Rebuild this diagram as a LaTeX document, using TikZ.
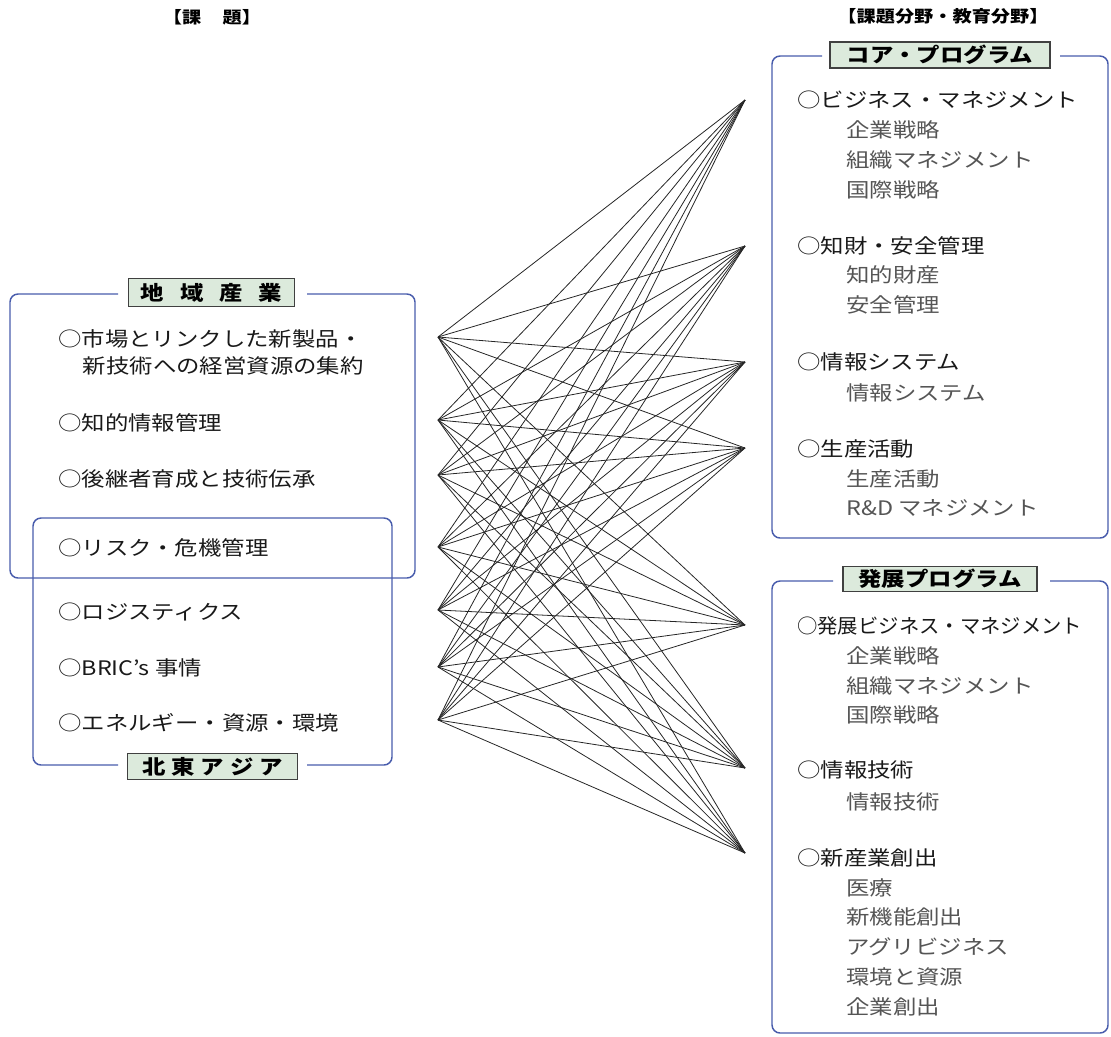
\documentclass[tikz,border=0pt]{standalone}
\usepackage{fontspec}
\setmainfont{Noto Sans CJK JP}[FakeStretch=1.17]
\definecolor{framec}{RGB}{72,92,172}
\definecolor{labfill}{RGB}{220,234,220}
\definecolor{subgray}{RGB}{85,85,85}
\begin{document}
\begin{tikzpicture}[x=0.75pt,y=-0.75pt,
  frame/.style={draw=framec,line width=1.1pt,rounded corners=6pt},
  label/.style={draw=black!75,fill=labfill,line width=0.9pt,inner sep=0pt,
    font=\fontsize{15}{18}\selectfont\bfseries},
  item/.style={anchor=west,inner sep=0pt,text=black!90,font=\fontsize{15}{18}\selectfont},
  sub/.style={anchor=west,inner sep=0pt,text=subgray,font=\fontsize{15}{18}\selectfont},
  heading/.style={inner sep=0pt,font=\fontsize{12.3}{14}\selectfont\bfseries},
  link/.style={draw=black!85,line width=0.6pt}]
\useasboundingbox (0,0) rectangle (1111,1036);

% headings
\node[heading] (h1) at (212,17) {【課\hspace{16pt}題】};
\node[heading] (h2) at (943,16) {【課題分野・教育分野】};

% left frames
\draw[frame] (118,294) -- (10,294) -- (10,578) -- (415,578) -- (415,294) -- (307,294);
\draw[frame] (118,765) -- (33,765) -- (33,518) -- (392,518) -- (392,765) -- (307,765);
\node[label,minimum width=125pt,minimum height=21.5pt] (lab1) at (211.5,292.5)
  {地\hspace{12pt}域\hspace{12pt}産\hspace{12pt}業};
\node[label,minimum width=127pt,minimum height=20pt] (lab2) at (212.5,766.5)
  {北\hspace{4.5pt}東\hspace{4.5pt}ア\hspace{4.5pt}ジ\hspace{4.5pt}ア};

% right frames
\draw[frame] (822,56) -- (772,56) -- (772,538) -- (1108,538) -- (1108,56) -- (1060,56);
\draw[frame] (833,581) -- (772,581) -- (772,1033) -- (1108,1033) -- (1108,581) -- (1050,581);
\node[label,minimum width=165pt,minimum height=19.5pt] (lab3) at (940,55) {コア・プログラム};
\node[label,minimum width=145.5pt,minimum height=19pt] (lab4) at (940,579) {発展プログラム};

% left items
\node[item,align=left,font=\fontsize{15}{20.25}\selectfont] (a1) at (58,352.5)
  {○市場とリンクした新製品・\\\hspace*{18.5pt}新技術への経営資源の集約};
\node[item] (a2) at (58,423) {○知的情報管理};
\node[item] (a3) at (58,479) {○後継者育成と技術伝承};
\node[item] (a4) at (58,548) {○リスク・危機管理};
\node[item] (a5) at (58,612) {○ロジスティクス};
\node[item] (a6) at (58,668) {○BRIC's 事情};
\node[item] (a7) at (58,723) {○エネルギー・資源・環境};

% right items: core
\node[item] (b1) at (797,100) {○ビジネス・マネジメント};
\node[sub] (b1a) at (846,130) {企業戦略};
\node[sub] (b1b) at (846,160) {組織マネジメント};
\node[sub] (b1c) at (846,190) {国際戦略};
\node[item] (b2) at (797,246) {○知財・安全管理};
\node[sub] (b2a) at (846,275) {知的財産};
\node[sub] (b2b) at (846,305) {安全管理};
\node[item] (b3) at (797,362) {○情報システム};
\node[sub] (b3a) at (846,393) {情報システム};
\node[item] (b4) at (797,449) {○生産活動};
\node[sub] (b4a) at (846,479) {生産活動};
\node[sub] (b4b) at (846,508) {R\&D マネジメント};

% right items: development
\node[item] (c1) at (797,626) {\scalebox{0.87}[1]{○発展ビジネス・マネジメント}};
\node[sub] (c1a) at (846,656) {企業戦略};
\node[sub] (c1b) at (846,686) {組織マネジメント};
\node[sub] (c1c) at (846,715) {国際戦略};
\node[item] (c2) at (797,770) {○情報技術};
\node[sub] (c2a) at (846,802) {情報技術};
\node[item] (c3) at (797,858) {○新産業創出};
\node[sub] (c3a) at (846,888) {医療};
\node[sub] (c3b) at (846,917) {新機能創出};
\node[sub] (c3c) at (846,947) {アグリビジネス};
\node[sub] (c3d) at (846,977) {環境と資源};
\node[sub] (c3e) at (846,1007) {企業創出};

% connection points
\coordinate (L1) at (438,337);
\coordinate (L2) at (438,420);
\coordinate (L3) at (438,475);
\coordinate (L4) at (438,547);
\coordinate (L5) at (438,610);
\coordinate (L6) at (438,667);
\coordinate (L7) at (438,720);
\coordinate (R1) at (745,100);
\coordinate (R2) at (745,246);
\coordinate (R3) at (745,362);
\coordinate (R4) at (745,448);
\coordinate (R5) at (745,625);
\coordinate (R6) at (745,768);
\coordinate (R7) at (745,853);

\foreach \i in {1,...,7}{
  \foreach \j in {1,...,7}{
    \draw[link] (L\i) -- (R\j);
  }
}
\end{tikzpicture}
\end{document}
